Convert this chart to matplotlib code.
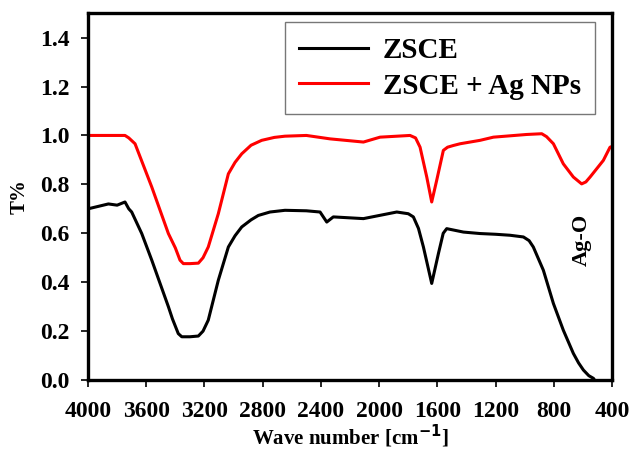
import numpy as np
import matplotlib
matplotlib.use("Agg")
import matplotlib.pyplot as plt

plt.rcParams['font.family'] = ['Liberation Serif', 'DejaVu Serif']
plt.rcParams['font.weight'] = 'bold'

# ZSCE (black) - wavenumber, T%
wn_zsce = [4000, 3930, 3860, 3800, 3746, 3720, 3700, 3631, 3562, 3448, 3420,
           3380, 3356, 3300, 3242, 3210, 3174, 3105, 3036, 2990, 2944, 2880,
           2830, 2750, 2647, 2500, 2406, 2360, 2315, 2108, 1879, 1800, 1765,
           1730, 1696, 1639, 1593, 1560, 1536, 1421, 1307, 1200, 1101, 1009,
           970, 941, 872, 803, 735, 666, 630, 597, 560, 528, 520]
t_zsce = [0.70, 0.71, 0.72, 0.715, 0.728, 0.70, 0.687, 0.599, 0.49, 0.30, 0.25,
          0.19, 0.177, 0.177, 0.18, 0.20, 0.245, 0.408, 0.544, 0.59, 0.626, 0.655,
          0.673, 0.687, 0.694, 0.692, 0.687, 0.646, 0.667, 0.66, 0.687, 0.68, 0.667,
          0.62, 0.544, 0.395, 0.517, 0.60, 0.619, 0.605, 0.599, 0.596, 0.592, 0.585,
          0.57, 0.544, 0.449, 0.313, 0.204, 0.109, 0.07, 0.041, 0.018, 0.007, 0.0]

# ZSCE + Ag NPs (red)
wn_ag = [4000, 3850, 3746, 3720, 3677, 3562, 3448, 3400, 3368, 3345, 3300, 3242,
         3210, 3174, 3105, 3036, 2990, 2944, 2880, 2807, 2720, 2647, 2500, 2337,
         2108, 1994, 1788, 1750, 1719, 1673, 1639, 1605, 1559, 1530, 1490, 1444,
         1307, 1215, 986, 883, 850, 803, 735, 666, 609, 580, 551, 460, 414, 400]
t_ag = [1.0, 1.0, 1.0, 0.99, 0.966, 0.789, 0.599, 0.54, 0.49, 0.476, 0.476, 0.478,
        0.50, 0.544, 0.68, 0.843, 0.89, 0.925, 0.96, 0.98, 0.992, 0.997, 1.0, 0.986,
        0.973, 0.993, 1.0, 0.99, 0.952, 0.83, 0.728, 0.816, 0.939, 0.952, 0.959, 0.966,
        0.98, 0.993, 1.004, 1.007, 0.995, 0.966, 0.884, 0.83, 0.802, 0.81, 0.83,
        0.898, 0.952, 0.955]

fig = plt.figure(figsize=(6.31, 4.53), dpi=100)
ax = fig.add_axes([0.1395, 0.161, 0.8305, 0.81])

ax.plot(wn_zsce, t_zsce, color='black', lw=2.2, label='ZSCE')
ax.plot(wn_ag, t_ag, color='#ff0000', lw=2.2, label='ZSCE + Ag NPs')

ax.set_xlim(4000, 400)
ax.set_ylim(0, 1.5)
ax.set_xticks(np.arange(4000, 399, -400))
ax.set_yticks(np.arange(0, 1.41, 0.2))
ax.set_yticklabels([f"{v:.1f}" for v in np.arange(0, 1.41, 0.2)])
ax.tick_params(direction='out', length=5, width=1.2, labelsize=17)
ax.tick_params(axis='x', pad=10)
ax.tick_params(axis='y', pad=8)
for lab in ax.get_xticklabels() + ax.get_yticklabels():
    lab.set_fontweight('bold')
for sp in ax.spines.values():
    sp.set_linewidth(2.4)

ax.set_xlabel('Wave number [cm$^{\\mathbf{-1}}$]', fontsize=15, fontweight='bold', labelpad=1)
ax.set_ylabel('T%', fontsize=15, fontweight='bold', labelpad=8)

ax.text(608, 0.575, 'Ag-O', rotation=90, fontsize=16, fontweight='bold',
        ha='center', va='center')

leg = ax.legend(loc='upper right', bbox_to_anchor=(0.968, 0.975),
                frameon=True, fancybox=False, handlelength=2.35,
                handletextpad=0.5, borderpad=0.5, labelspacing=0.3,
                borderaxespad=0, prop={'weight': 'bold', 'size': 21})
leg.get_frame().set_edgecolor('#555555')
leg.get_frame().set_linewidth(1.0)

fig.savefig('out.png', dpi=100)
